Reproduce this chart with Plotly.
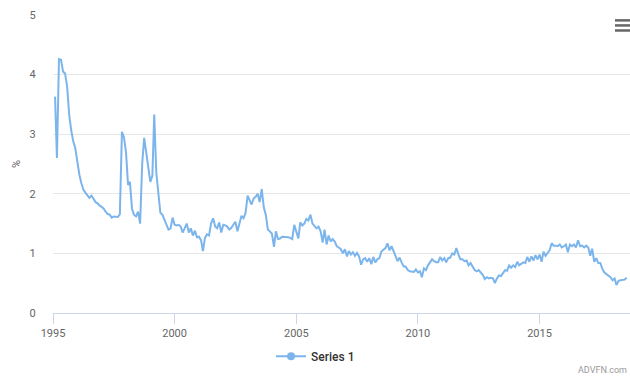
import pandas as pd
import plotly.graph_objects as go

# Monthly values (%), Feb 1995 .. Aug 2018
v1995 = [3.63, 2.6, 4.26, 4.25, 4.05, 4.02, 3.8, 3.33, 3.07, 2.88, 2.77]
v1996 = [2.54, 2.32, 2.18, 2.07, 2.02, 1.97, 1.93, 1.97, 1.92, 1.86, 1.84, 1.8]
v1997 = [1.78, 1.75, 1.7, 1.66, 1.65, 1.6, 1.62, 1.62, 1.61, 1.66, 3.04, 2.95]
v1998 = [2.7, 2.15, 2.2, 1.75, 1.65, 1.62, 1.7, 1.5, 2.5, 2.94, 2.7, 2.45]
v1999 = [2.2, 2.3, 3.33, 2.35, 2.0, 1.68, 1.65, 1.57, 1.5, 1.4, 1.42, 1.6]
v2000 = [1.48, 1.47, 1.48, 1.45, 1.35, 1.42, 1.5, 1.35, 1.42, 1.3, 1.38, 1.27]
v2001 = [1.28, 1.22, 1.04, 1.26, 1.32, 1.3, 1.5, 1.59, 1.45, 1.42, 1.52, 1.35]
v2002 = [1.48, 1.47, 1.45, 1.4, 1.43, 1.48, 1.53, 1.37, 1.5, 1.63, 1.59, 1.68]
v2003 = [1.97, 1.88, 1.82, 1.92, 1.95, 2.0, 1.86, 2.08, 1.77, 1.65, 1.4, 1.37]
v2004 = [1.33, 1.11, 1.37, 1.24, 1.25, 1.28, 1.28, 1.28, 1.27, 1.26, 1.24, 1.48]
v2005 = [1.37, 1.25, 1.52, 1.47, 1.5, 1.58, 1.55, 1.65, 1.5, 1.45, 1.42, 1.45]
v2006 = [1.37, 1.18, 1.4, 1.15, 1.3, 1.2, 1.24, 1.2, 1.12, 1.1, 1.07, 1.0]
v2007 = [1.07, 0.95, 1.04, 0.98, 1.02, 0.96, 1.01, 0.95, 0.81, 0.9, 0.92, 0.86]
v2008 = [0.92, 0.82, 0.94, 0.85, 0.9, 0.92, 1.03, 1.06, 1.09, 1.17, 1.05, 1.12]
v2009 = [1.02, 0.95, 0.87, 0.93, 0.85, 0.78, 0.78, 0.72, 0.7, 0.7, 0.69, 0.73]
v2010 = [0.68, 0.7, 0.6, 0.75, 0.72, 0.8, 0.86, 0.9, 0.87, 0.85, 0.85, 0.94]
v2011 = [0.88, 0.92, 0.85, 0.92, 0.93, 1.0, 0.98, 1.09, 0.98, 0.9, 0.9, 0.87]
v2012 = [0.88, 0.8, 0.84, 0.78, 0.72, 0.7, 0.72, 0.68, 0.64, 0.57, 0.6, 0.58]
v2013 = [0.59, 0.58, 0.5, 0.58, 0.63, 0.62, 0.67, 0.72, 0.71, 0.8, 0.76, 0.8]
v2014 = [0.77, 0.86, 0.8, 0.83, 0.85, 0.84, 0.94, 0.86, 0.95, 0.88, 0.97, 0.9]
v2015 = [0.98, 0.86, 1.03, 0.96, 1.0, 1.05, 1.17, 1.13, 1.13, 1.12, 1.15, 1.1]
v2016 = [1.12, 1.15, 1.02, 1.15, 1.12, 1.15, 1.1, 1.22, 1.12, 1.13, 1.1, 1.13]
v2017 = [1.1, 0.96, 1.08, 0.86, 0.92, 0.84, 0.84, 0.74, 0.68, 0.65, 0.62, 0.6]
v2018 = [0.55, 0.58, 0.47, 0.54, 0.55, 0.55, 0.56, 0.59]

values = (v1995 + v1996 + v1997 + v1998 + v1999 + v2000 + v2001 + v2002 + v2003
          + v2004 + v2005 + v2006 + v2007 + v2008 + v2009 + v2010 + v2011 + v2012
          + v2013 + v2014 + v2015 + v2016 + v2017 + v2018)
dates = pd.date_range("1995-02-01", periods=len(values), freq="MS")

series_name = "Series 1"
y_title = "%"
x_ticks = ["1995-01-01", "2000-01-01", "2005-01-01", "2010-01-01", "2015-01-01"]
x_tick_labels = ["1995", "2000", "2005", "2010", "2015"]

LINE = "#7cb5ec"
FONT = "Roboto, 'Open Sans', sans-serif"

fig = go.Figure()
fig.add_trace(go.Scatter(x=dates, y=values, mode="lines",
                         line=dict(color=LINE, width=2), showlegend=False,
                         hoverinfo="x+y"))
fig.add_trace(go.Scatter(x=[None], y=[None], mode="lines+markers", name=series_name,
                         line=dict(color=LINE, width=2),
                         marker=dict(color=LINE, size=8, symbol="circle")))

fig.update_layout(
    width=630, height=378,
    margin=dict(l=53, r=0, t=15, b=65),
    paper_bgcolor="white", plot_bgcolor="white",
    font=dict(family=FONT, color="#666666", size=11),
    showlegend=True,
    legend=dict(orientation="h", x=0.455, xanchor="center", y=-0.145, yanchor="middle",
                font=dict(size=12, color="#333333", family="Roboto Medium, Roboto, sans-serif"),
                itemwidth=30),
    xaxis=dict(
        type="date",
        range=["1995-01-01", "2018-09-20"],
        tickmode="array", tickvals=x_ticks, ticktext=x_tick_labels,
        showgrid=False, showline=True, linecolor="#ccd6eb", linewidth=1,
        ticks="outside", ticklen=10, tickcolor="#ccd6eb",
        tickfont=dict(size=11, color="#666666"),
        zeroline=False,
    ),
    yaxis=dict(
        range=[0, 5], dtick=1, tick0=0,
        showgrid=True, gridcolor="#e6e6e6", gridwidth=1,
        zeroline=False, showline=False,
        ticks="outside", ticklen=14, tickcolor="rgba(0,0,0,0)",
        tickfont=dict(size=11, color="#666666"),
        title=dict(text=y_title, font=dict(size=11, color="#666666"), standoff=6),
    ),
)

# ADVFN credit
fig.add_annotation(text="ADVFN.com", xref="paper", yref="paper", x=0.998, y=-0.19,
                   xanchor="right", yanchor="middle", showarrow=False,
                   font=dict(size=9, color="#999999", family=FONT))

# context-menu (hamburger) icon
for yy in (0.982, 0.965, 0.948):
    fig.add_shape(type="line", xref="paper", yref="paper", x0=0.974, x1=1.0,
                  y0=yy, y1=yy, line=dict(color="#666666", width=2.5))

fig.write_html("out.html", config={"displayModeBar": False})
